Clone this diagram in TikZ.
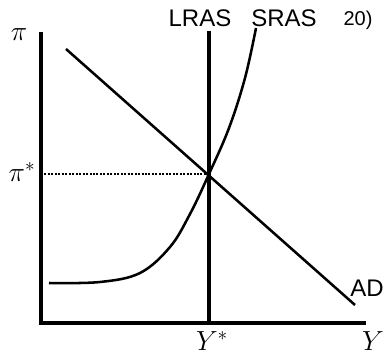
\documentclass[tikz,border=0pt]{standalone}
\usepackage{fontspec}
\setmainfont{Liberation Sans}
\usetikzlibrary{positioning, calc}
\tikzset{
  axis/.style  ={line width=2.8pt},
  vert/.style  ={line width=2.4pt},
  curve/.style ={line width=1.9pt},
  guide/.style ={dash pattern=on 1.5pt off 1.1pt, line width=1.6pt},
  lbl/.style   ={font=\fontsize{18}{18}\selectfont, inner sep=0pt},
  var/.style   ={font=\fontsize{21}{21}\selectfont, inner sep=0pt},
}

\begin{document}
\begin{tikzpicture}[x=0.75pt, y=-0.75pt]
  \useasboundingbox (0,0) rectangle (385,359);
  \coordinate (O)    at (41,323);
  \coordinate (Ytop) at (41,32);
  \coordinate (Xend) at (366,323);
  \coordinate (E)    at (209,174);
  \coordinate (Ltop) at (209,31);
  \coordinate (Lbot) at (209,323);
  \coordinate (Pi)   at (41,174);
  \coordinate (ADa)  at (66,49);
  \coordinate (ADb)  at (355,305);
  \coordinate (Sa)   at (49,283);
  \coordinate (Sb)   at (256,28);
  \draw[axis] (Ytop) -- (O) -- (Xend);
  \draw[vert] (Ltop) -- (Lbot);
  \draw[guide] (Pi) -- (E);
  \draw[curve] (ADa) -- (ADb);
  \draw[curve] plot[smooth, tension=0.6] coordinates
    {(Sa) (100,282) (140,273) (170,247) (190,214) (E) (229,128) (245,78) (Sb)};
  \node[var] (pi)    at (19,35)  {$\pi$};
  \node[var] (pis)   at (22,172) {$\pi^*$};
  \node[var] (ys)    at (212,341) {$Y^*$};
  \node[var] (y)     at (373,341) {$Y$};
  \node[lbl] (lras)  at (200,18) {LRAS};
  \node[lbl] (sras)  at (284,18) {SRAS};
  \node[lbl, font=\fontsize{15}{15}\selectfont] (num) at (358,20) {20)};
  \node[lbl] (ad)    at (367,288) {AD};
\end{tikzpicture}
\end{document}
